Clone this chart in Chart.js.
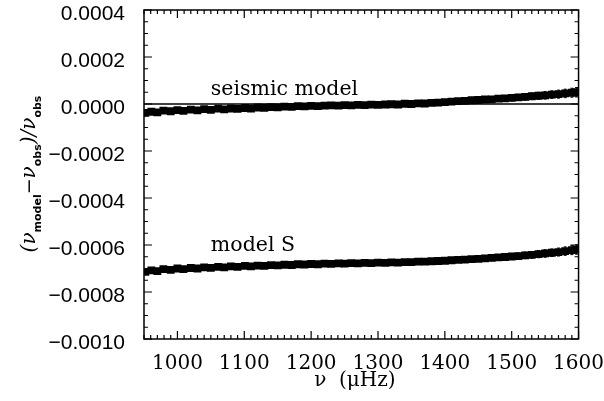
<!DOCTYPE html>
<html>
<head>
<meta charset="utf-8">
<script src="https://cdn.jsdelivr.net/npm/chart.js@4"></script>
<style>
  body { margin: 0; background: #fff; }
  canvas { display: block; }
</style>
</head>
<body>
<canvas id="resid" width="604" height="401"></canvas>
<script>
// mode frequencies (muHz)
const freq = [952, 961, 970, 979, 990, 1000, 1009, 1020, 1030, 1040, 1050, 1061, 1070, 1080, 1090, 1101,
  1110, 1120, 1130, 1140, 1150, 1160, 1171, 1180, 1190, 1200, 1210, 1220, 1230, 1241, 1250, 1260,
  1270, 1280, 1290, 1300, 1311, 1320, 1330, 1340, 1350, 1360, 1370, 1380, 1390, 1400, 1410, 1420,
  1430, 1440, 1450, 1460, 1470, 1480, 1490, 1500, 1510, 1520, 1530, 1540, 1550, 1560, 1570, 1580,
  1590, 1597]

// relative differences, units of 1e-6
const seismic = [-38, -33, -36, -28, -31, -26, -29, -24, -27, -22, -25, -20, -23, -19, -21, -17,
  -19, -15, -16, -13, -14, -11, -12, -9, -10, -8, -9, -7, -6, -7, -5, -6,
  -4, -5, -3, -4, -2, -1, -2, 1, 0, 3, 2, 5, 6, 8, 10, 12,
  13, 16, 17, 19, 20, 23, 24, 26, 28, 30, 33, 35, 37, 40, 42, 45,
  48, 50]
const modelS = [-714, -708, -711, -703, -706, -700, -703, -698, -700, -695, -697, -693, -695, -691, -693, -689,
  -691, -688, -689, -686, -687, -684, -685, -682, -683, -681, -682, -679, -680, -678, -679, -677,
  -678, -676, -677, -675, -676, -674, -675, -673, -673, -671, -671, -669, -668, -667, -665, -663,
  -662, -660, -659, -657, -655, -653, -651, -649, -647, -644, -642, -639, -636, -633, -630, -626,
  -622, -619]
const errs = [9, 8, 10, 8, 9, 7, 8, 7, 7, 6, 7, 6, 6, 6, 6, 6,
  6, 6, 6, 6, 6, 6, 6, 6, 6, 6, 6, 6, 6, 6, 6, 6,
  6, 6, 7, 7, 7, 7, 7, 7, 8, 8, 8, 8, 9, 9, 9, 10,
  10, 10, 11, 11, 12, 12, 12, 13, 13, 14, 14, 15, 16, 16, 17, 18,
  19, 20]

const xTicks = [1000, 1100, 1200, 1300, 1400, 1500, 1600]
const yTicks = [0.0004, 0.0002, 0.0000, -0.0002, -0.0004, -0.0006, -0.0008, -0.0010]
const labels = [
  {text: 'seismic model', x: 1050, y: 60e-6},
  {text: 'model S', x: 1050, y: -604e-6}
]

const toPoints = vals => vals.map((v, i) => ({x: freq[i], y: v * 1e-6}))

const fmtY = v => {
  const s = Math.abs(v).toFixed(4)
  return v < -1e-9 ? '\u2212' + s : s
}

// frame, inward ticks, y tick labels, error bars, text labels, y title
const idlStyle = {
  id: 'idlStyle',
  afterDatasetsDraw(chart) {
    const ctx = chart.ctx
    const xs = chart.scales.x, ys = chart.scales.y
    ctx.save()
    ctx.strokeStyle = '#000'
    ctx.lineWidth = 1
    ;[1, 2].forEach(d => {
      chart.data.datasets[d].data.forEach((p, i) => {
        const e = errs[i] * 1e-6
        const px = xs.getPixelForValue(p.x)
        const y1 = ys.getPixelForValue(p.y - e), y2 = ys.getPixelForValue(p.y + e)
        ctx.beginPath()
        ctx.moveTo(px, y1); ctx.lineTo(px, y2)
        ctx.moveTo(px - 1.5, y1); ctx.lineTo(px + 1.5, y1)
        ctx.moveTo(px - 1.5, y2); ctx.lineTo(px + 1.5, y2)
        ctx.stroke()
      })
    })
    ctx.restore()
  },
  afterDraw(chart) {
    const ctx = chart.ctx
    const a = chart.chartArea
    const xs = chart.scales.x, ys = chart.scales.y
    ctx.save()
    ctx.strokeStyle = '#000'
    ctx.lineWidth = 1.5
    ctx.strokeRect(a.left, a.top, a.right - a.left, a.bottom - a.top)
    ctx.lineWidth = 1.2
    ctx.beginPath()
    for (let v = 950; v <= 1600; v += 10) {
      const px = xs.getPixelForValue(v)
      const len = v % 100 === 0 ? 8 : 4
      ctx.moveTo(px, a.bottom); ctx.lineTo(px, a.bottom - len)
      ctx.moveTo(px, a.top); ctx.lineTo(px, a.top + len)
    }
    for (let k = -20; k <= 8; k++) {
      const py = ys.getPixelForValue(k * 0.00005)
      const len = k % 4 === 0 ? 8 : 4
      ctx.moveTo(a.left, py); ctx.lineTo(a.left + len, py)
      ctx.moveTo(a.right, py); ctx.lineTo(a.right - len, py)
    }
    ctx.stroke()

    ctx.fillStyle = '#000'
    ctx.font = '21px "Liberation Sans"'
    ctx.textBaseline = 'middle'
    ctx.textAlign = 'right'
    yTicks.forEach(v => {
      ctx.fillText(fmtY(v), a.left - 19, ys.getPixelForValue(v) + 4)
    })

    ctx.font = '20.5px "DejaVu Serif"'
    ctx.textAlign = 'left'
    labels.forEach(l => {
      ctx.fillText(l.text, xs.getPixelForValue(l.x), ys.getPixelForValue(l.y))
    })

    // y axis title with subscripts
    const parts = [
      {t: '(\u03bd', f: 'italic 20px "DejaVu Serif"', dy: 0},
      {t: 'model', f: 'bold 11px "DejaVu Sans"', dy: 6},
      {t: '\u2212', f: '19px "DejaVu Serif"', dy: 0},
      {t: '\u03bd', f: 'italic 20px "DejaVu Serif"', dy: 0},
      {t: 'obs', f: 'bold 11px "DejaVu Sans"', dy: 6},
      {t: ')/\u03bd', f: 'italic 20px "DejaVu Serif"', dy: 0},
      {t: 'obs', f: 'bold 11px "DejaVu Sans"', dy: 6}
    ]
    let total = 0
    parts.forEach(p => { ctx.font = p.f; p.w = ctx.measureText(p.t).width; total += p.w })
    ctx.translate(35, 174)
    ctx.rotate(-Math.PI / 2)
    ctx.textBaseline = 'alphabetic'
    let cx = -total / 2
    parts.forEach(p => {
      ctx.font = p.f
      ctx.fillText(p.t, cx, p.dy)
      cx += p.w
    })
    ctx.restore()
  }
}

new Chart(document.getElementById('resid'), {
  type: 'scatter',
  data: {
    datasets: [
      {
        type: 'line',
        data: [{x: 950, y: 0}, {x: 1600, y: 0}],
        borderColor: '#000',
        borderWidth: 1.5,
        pointRadius: 0
      },
      {
        data: toPoints(seismic),
        showLine: true,
        borderColor: '#000',
        borderWidth: 5,
        backgroundColor: '#000',
        pointStyle: 'rect',
        pointRadius: 2
      },
      {
        data: toPoints(modelS),
        showLine: true,
        borderColor: '#000',
        borderWidth: 5,
        backgroundColor: '#000',
        pointStyle: 'rect',
        pointRadius: 2
      }
    ]
  },
  options: {
    responsive: false,
    animation: false,
    layout: {padding: {top: 10, left: 0, right: 0, bottom: 0}},
    plugins: {legend: {display: false}, tooltip: {enabled: false}},
    scales: {
      x: {
        type: 'linear',
        min: 950,
        max: 1600,
        grid: {display: false, tickLength: 15},
        border: {display: false},
        afterBuildTicks: s => { s.ticks = xTicks.map(v => ({value: v})) },
        afterFit: s => { s.height = 62 },
        ticks: {
          color: '#000',
          padding: 0,
          maxRotation: 0,
          autoSkip: false,
          font: {family: 'DejaVu Serif', size: 20, lineHeight: 1},
          callback: v => String(v)
        },
        title: {
          display: true,
          text: '\u03bd  (\u03bcHz)  ',
          color: '#000',
          font: {family: 'DejaVu Serif', size: 20, lineHeight: 1.2},
          padding: {top: 0, bottom: 8}
        }
      },
      y: {
        min: -0.001,
        max: 0.0004,
        grid: {display: false},
        border: {display: false},
        afterBuildTicks: s => { s.ticks = yTicks.map(v => ({value: v})) },
        afterFit: s => { s.width = 144 },
        ticks: {display: false}
      }
    }
  },
  plugins: [idlStyle]
})
</script>
</body>
</html>
